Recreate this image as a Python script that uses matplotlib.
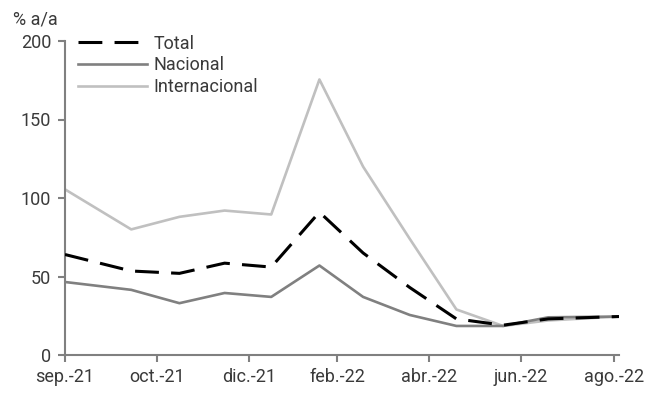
import matplotlib
matplotlib.use("Agg")
import matplotlib.pyplot as plt
import pandas as pd

plt.rcParams['font.family'] = ['Roboto', 'DejaVu Sans']

# data
fechas = ["2021-09-01", "2021-10-15", "2021-11-16", "2021-12-16", "2022-01-16",
          "2022-02-17", "2022-03-18", "2022-04-18", "2022-05-19", "2022-06-19",
          "2022-07-19", "2022-09-04"]
total = [64, 53.5, 52, 58.5, 56, 91, 65, 43, 23, 19, 23, 24.5]
nacional = [46.5, 41.5, 33, 39.5, 37, 57, 37, 25.5, 18.5, 18.5, 24, 24.5]
internacional = [105.5, 80, 88, 92, 89.5, 175.5, 120, 74, 29, 18.5, 22, 24.5]

tick_fechas = ["2021-09-01", "2021-11-01", "2022-01-01", "2022-03-01",
               "2022-05-01", "2022-07-01", "2022-09-01"]
tick_labels = ["sep.-21", "oct.-21", "dic.-21", "feb.-22", "abr.-22", "jun.-22", "ago.-22"]

x = pd.to_datetime(fechas)
txt = '#3a3a3a'
axc = '#808080'
fs = 13

fig = plt.figure(figsize=(6.59, 3.98), dpi=100)
ax = fig.add_axes([65/659, 43/398, 554/659, 314/398])

ax.plot(x, internacional, color='#c0c0c0', lw=1.9, label='Internacional', zorder=2)
ax.plot(x, nacional, color='#808080', lw=1.9, label='Nacional', zorder=3)
ax.plot(x, total, color='black', lw=2.2, dashes=(7.8, 4), label='Total', zorder=4)

ax.set_xlim(pd.Timestamp("2021-09-01"), pd.Timestamp("2022-09-04"))
ax.set_ylim(0, 200)
ax.set_yticks([0, 50, 100, 150, 200])
ax.set_xticks(pd.to_datetime(tick_fechas))
ax.set_xticklabels(tick_labels)

for s in ['top', 'right']:
    ax.spines[s].set_visible(False)
for s in ['left', 'bottom']:
    ax.spines[s].set_color(axc)
    ax.spines[s].set_linewidth(1.5)
ax.tick_params(colors=axc, labelcolor=txt, labelsize=fs, length=5, width=1.5)
ax.tick_params(axis='y', pad=5)
ax.tick_params(axis='x', pad=4)

fig.text(13/659, 1 - 20/398, '% a/a', fontsize=fs, color=txt, va='center', ha='left')

h, l = ax.get_legend_handles_labels()
leg = ax.legend(h[::-1], l[::-1], loc='upper left', bbox_to_anchor=(0.023, 1.02),
                frameon=False, fontsize=fs, labelcolor=txt, handlelength=3.85,
                handletextpad=0.35, labelspacing=0.2, borderaxespad=0, borderpad=0)

fig.savefig('out.png', dpi=100)
